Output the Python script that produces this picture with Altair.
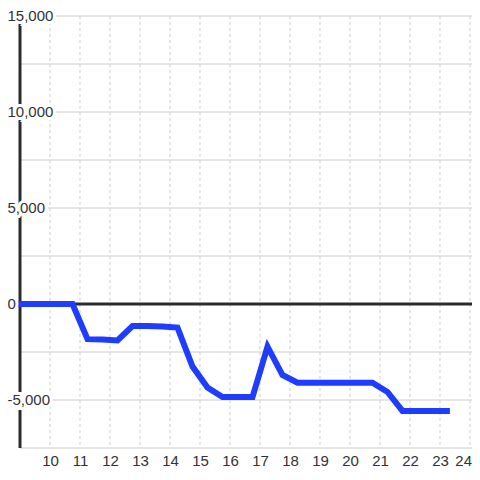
import altair as alt
import pandas as pd

# series
hours = [8.75, 9.25, 9.75, 10.25, 10.75, 11.25, 11.75, 12.25, 12.75, 13.25,
         13.75, 14.25, 14.75, 15.25, 15.75, 16.25, 16.75, 17.25, 17.75, 18.25,
         18.75, 19.25, 19.75, 20.25, 20.75, 21.25, 21.75, 22.25, 22.75, 23.33]
values = [0, 0, 0, 0, 0, -1830, -1850, -1900, -1150, -1150,
          -1170, -1230, -3260, -4350, -4850, -4850, -4850, -2220, -3700, -4100,
          -4100, -4100, -4100, -4100, -4100, -4580, -5570, -5570, -5570, -5570]

# axes
x_ticks = list(range(10, 25))
y_grid = [-7500, -5000, -2500, 2500, 5000, 7500, 10000, 12500, 15000]
y_label_values = [15000, 10000, 5000, 0, -5000]
y_label_texts = ["15,000", "10,000", "5,000", "0", "-5,000"]

FONT = "Liberation Sans"
DARK = "#2b2b2b"
GRID = "#cccccc"
BLUE = "#1f3dff"

xs = alt.Scale(domain=[9, 24.0667], nice=False, zero=False)
ys = alt.Scale(domain=[-7500, 15000], nice=False, zero=False)
x_axis = alt.Axis(values=x_ticks, grid=False, domain=False, ticks=False, title=None,
                  labelFont=FONT, labelFontSize=15, labelColor="#333333",
                  labelPadding=5, format="d", labelOverlap=False, labelBound=False,
                  labelAlign=alt.ExprRef(expr="datum.value == 24 ? 'right' : 'center'"),
                  labelOffset=alt.ExprRef(expr="datum.value == 24 ? 1.5 : 0"))

line_df = pd.DataFrame({"h": hours, "v": values})
vgrid_df = pd.DataFrame({"h": x_ticks})
hgrid_df = pd.DataFrame({"v": y_grid})
ylab_df = pd.DataFrame({"v": y_label_values, "t": y_label_texts})

X = alt.X("h:Q", scale=xs, axis=x_axis)
Y = alt.Y("v:Q", scale=ys, axis=None)

vgrid = alt.Chart(vgrid_df).mark_rule(color=GRID, strokeWidth=1, strokeDash=[3, 3]).encode(x=X)
hgrid = alt.Chart(hgrid_df).mark_rule(color=GRID, strokeWidth=1).encode(y=Y)
zero = alt.Chart(pd.DataFrame({"v": [0]})).mark_rule(color=DARK, strokeWidth=3).encode(y=Y)
yaxis = alt.Chart(pd.DataFrame({"h": [9]})).mark_rule(color=DARK, strokeWidth=3).encode(x=X)
line = alt.Chart(line_df).mark_line(color=BLUE, strokeWidth=6, clip=False).encode(x=X, y=Y)

halo = alt.Chart(ylab_df).mark_text(align="left", baseline="middle", font=FONT, fontSize=15,
                                    fill="white", stroke="white", strokeWidth=6).encode(
    x=alt.value(-12.5), y=Y, text="t:N")
labels = alt.Chart(ylab_df).mark_text(align="left", baseline="middle", font=FONT, fontSize=15,
                                      color="#333333").encode(
    x=alt.value(-12.5), y=Y, text="t:N")

chart = alt.layer(vgrid, hgrid, zero, yaxis, line, halo, labels).properties(
    width=452, height=432,
    autosize=alt.AutoSizeParams(type="none"),
    padding={"left": 12, "top": 8, "right": 0, "bottom": 20},
    background="white"
).configure_view(stroke=None)

chart.save("out.html", embed_options={"renderer": "svg", "actions": False})
